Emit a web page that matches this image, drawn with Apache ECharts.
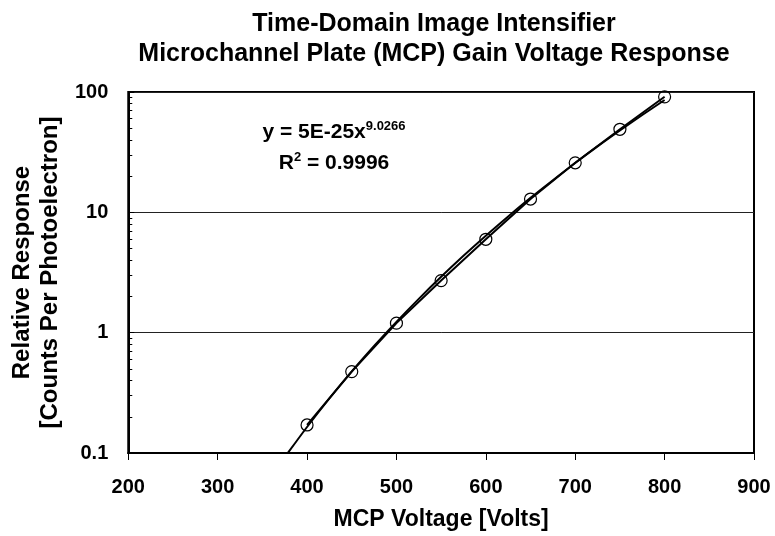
<!DOCTYPE html>
<html><head><meta charset="utf-8">
<script src="https://cdn.jsdelivr.net/npm/echarts@6/dist/echarts.min.js"></script>
<style>html,body{margin:0;padding:0;background:#fff}#c{width:775px;height:536px}</style>
</head><body><div id="c"></div>
<script>
const titleLines = ['Time-Domain Image Intensifier', 'Microchannel Plate (MCP) Gain Voltage Response'];
const xAxisTitle = 'MCP Voltage [Volts]';
const yAxisTitle = ['Relative Response', '[Counts Per Photoelectron]'];
const voltages = [400, 450, 500, 550, 600, 650, 700, 750, 800];
const response = [0.171, 0.475, 1.20, 2.71, 5.97, 12.9, 25.8, 49.0, 91.2];
const trendVoltages = [370, 380, 400, 425, 450, 475, 500, 525, 550, 575, 600, 625, 650, 675, 700, 725, 750, 775, 800];
const trendResponse = [0.0813, 0.1035, 0.1645, 0.284, 0.476, 0.776, 1.23, 1.91, 2.91, 4.35, 6.39, 9.24, 13.2, 18.5, 25.7, 35.3, 47.9, 64.4, 85.8];
const yMinorTicks = [0.2, 0.3, 0.4, 0.5, 0.6, 0.7, 0.8, 0.9, 2, 3, 4, 5, 6, 7, 8, 9, 20, 30, 40, 50, 60, 70, 80, 90];
const yLabelValues = [0.1, 1, 10, 100];
const equationMain = 'y = 5E-25x';
const equationExp = '9.0266';
const rSquared = '0.9996';

const FONT = '"Liberation Sans", Arial, sans-serif';
const chart = echarts.init(document.getElementById('c'), null, {renderer: 'canvas'});

const yBase = {type: 'log', logBase: 10, min: 0.1, max: 100};

chart.setOption({
  backgroundColor: '#fff',
  animation: false,
  grid: {left: 121, right: 21, top: 92, bottom: 82, show: true, borderColor: '#000', borderWidth: 2, backgroundColor: 'transparent'},
  xAxis: {
    type: 'value', min: 200, max: 900, interval: 100,
    name: xAxisTitle, nameLocation: 'middle', nameGap: 55,
    nameTextStyle: {fontFamily: FONT, fontWeight: 'bold', fontSize: 23, color: '#000'},
    axisLine: {show: true, lineStyle: {color: '#000', width: 2}},
    axisTick: {show: true, inside: false, length: 7, lineStyle: {color: '#000', width: 1}},
    axisLabel: {margin: 24, fontFamily: FONT, fontWeight: 'bold', fontSize: 20, color: '#000'},
    splitLine: {show: false}
  },
  yAxis: [
    Object.assign({}, yBase, {
      name: yAxisTitle.join('\n'), nameLocation: 'middle', nameRotate: 90, nameGap: 50,
      nameTextStyle: {fontFamily: FONT, fontWeight: 'bold', fontSize: 24, lineHeight: 28, color: '#000'},
      axisLine: {show: true, lineStyle: {color: '#000', width: 2}},
      axisTick: {show: true, inside: true, length: 6, lineStyle: {color: '#000', width: 1}},
      axisLabel: {margin: 20, fontFamily: FONT, fontWeight: 'bold', fontSize: 20, color: '#000',
        customValues: yLabelValues, formatter: v => String(v)},
      splitLine: {show: true, lineStyle: {color: '#222', width: 1}}
    }),
    Object.assign({}, yBase, {
      position: 'left', offset: 0,
      axisLine: {show: true, lineStyle: {color: '#000', width: 2}},
      axisTick: {show: true, inside: true, length: 4, customValues: yMinorTicks, lineStyle: {color: '#000', width: 1}},
      axisLabel: {show: false},
      splitLine: {show: false}
    })
  ],
  graphic: [
    {type: 'text', x: 434, y: 9, style: {text: titleLines.join('\n'), fill: '#000', font: 'bold 25px ' + FONT, lineHeight: 30, align: 'center', verticalAlign: 'top'}},
    {type: 'text', x: 334, y: 117, style: {
      text: '{m|' + equationMain + '}{s|' + equationExp + '}\n{m|R}{s|2}{m| = ' + rSquared + '}',
      align: 'center', verticalAlign: 'top', fill: '#000',
      rich: {
        m: {fontFamily: FONT, fontWeight: 'bold', fontSize: 21, lineHeight: 31, fill: '#000'},
        s: {fontFamily: FONT, fontWeight: 'bold', fontSize: 13, lineHeight: 13, verticalAlign: 'top', padding: [3, 0, 0, 0], fill: '#000'}
      }
    }}
  ],
  series: [
    {
      name: 'Power trend', type: 'line', smooth: 0.3, showSymbol: false, symbol: 'none', clip: true,
      data: trendVoltages.map((v, i) => [v, trendResponse[i]]),
      lineStyle: {color: '#000', width: 2}, z: 2
    },
    {
      name: 'Measured', type: 'line', symbol: 'circle', symbolSize: 12, clip: false,
      data: voltages.map((v, i) => [v, response[i]]),
      lineStyle: {color: '#000', width: 2},
      itemStyle: {color: 'rgba(0,0,0,0)', borderColor: '#000', borderWidth: 1.2}, z: 3
    }
  ]
});
</script></body></html>
